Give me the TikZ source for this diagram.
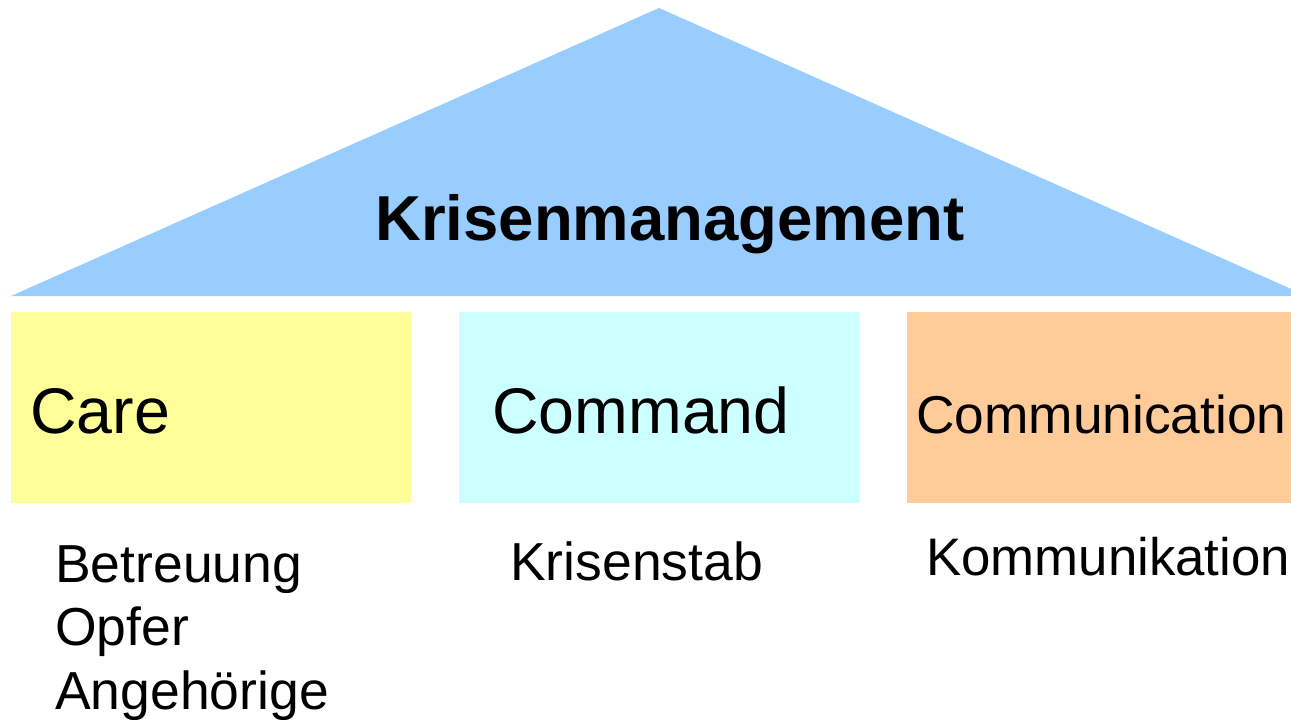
\documentclass[tikz,border=0pt]{standalone}
\usepackage{fontspec}
\setmainfont{Liberation Sans}
\definecolor{roofblue}{HTML}{99CCFF}
\definecolor{careyellow}{HTML}{FFFF99}
\definecolor{cmdcyan}{HTML}{CCFFFF}
\definecolor{comorange}{HTML}{FFCC99}
\tikzset{
  pillar/.style={draw=none, anchor=north west, inner sep=0pt, minimum height=191pt},
  bigtxt/.style={anchor=base west, inner sep=0pt, font=\fontsize{64.5}{70}\selectfont},
  midtxt/.style={anchor=base west, inner sep=0pt, font=\fontsize{53.3}{60}\selectfont},
  subtxt/.style={anchor=base west, inner sep=0pt, font=\fontsize{53.5}{63.5}\selectfont, align=left},
  rooftxt/.style={anchor=base west, inner sep=0pt, font=\fontsize{63.5}{70}\selectfont\bfseries}
}
\begin{document}
\begin{tikzpicture}[x=1pt,y=-1pt]
\useasboundingbox (0,0) rectangle (1291,720);
\begin{scope}
\clip (0,0) rectangle (1291,720);
\fill[roofblue] (11,296) -- (659,8) -- (1307,296) -- cycle;
\end{scope}
\node[pillar, fill=careyellow, minimum width=400pt] (care) at (11,312) {};
\node[pillar, fill=cmdcyan, minimum width=400pt] (command) at (459,312) {};
\node[pillar, fill=comorange, minimum width=384pt] (comm) at (907,312) {};
\node[rooftxt] (roof) at (375,240) {Krisenmanagement};
\node[bigtxt] (caret) at (30,433) {Care};
\node[bigtxt] (cmdt) at (492,433) {Command};
\node[midtxt] (commt) at (916,433) {Communication};
\node[subtxt] (b1) at (55,582) {Betreuung};
\node[subtxt] (b2) at (55,645) {Opfer};
\node[subtxt] (b3) at (55,709) {Angehörige};
\node[subtxt] (k1) at (510,580) {Krisenstab};
\node[subtxt, font=\fontsize{52.8}{63.5}\selectfont] (k2) at (926,575) {Kommunikation};
\end{tikzpicture}
\end{document}
